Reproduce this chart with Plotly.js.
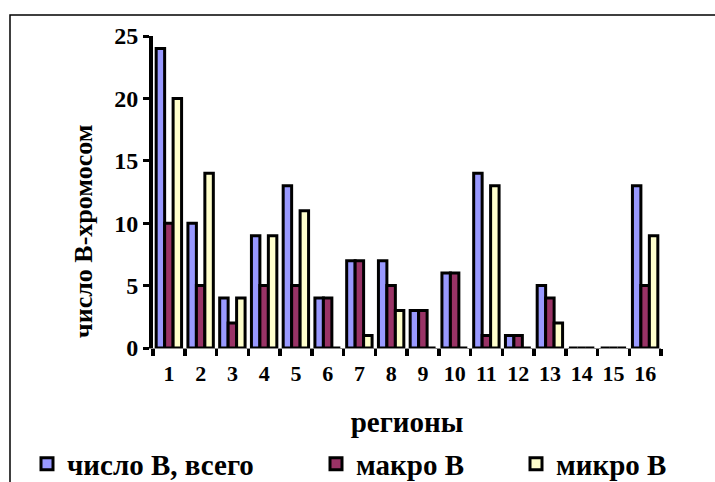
<!DOCTYPE html>
<html><head><meta charset="utf-8">
<script src="https://cdn.plot.ly/plotly-3.0.1.min.js"></script>
<style>html,body{margin:0;padding:0;background:#fff}#c{width:715px;height:482px}</style>
</head><body><div id="c"></div>
<script>
const regions = ['1','2','3','4','5','6','7','8','9','10','11','12','13','14','15','16'];
const totalB = [24,10,4,9,13,4,7,7,3,6,14,1,5,0,0,13];
const macroB = [10,5,2,5,5,4,7,5,3,6,1,1,4,0,0,5];
const microB = [20,14,4,9,11,0,1,3,0,0,13,0,2,0,0,9];
const seriesNames = ['число В, всего','макро В','микро В'];
const colors = ['#9999FF','#993366','#FFFFCC'];
const FONT = 'Liberation Serif, Times New Roman, serif';

const vals = [totalB, macroB, microB];
const legendPos = [27/715, 316/715, 516/715];
const traces = vals.map((v,i)=>({
  type:'bar', x:regions, y:v, name:'<b>'+seriesNames[i]+'</b>',
  marker:{color:colors[i], line:{color:'#000', width:3}},
  legend: i===0?'legend':'legend'+(i+1), showlegend:true
}));
const legendCommon = {orientation:'h', yanchor:'middle', xanchor:'left',
  xref:'container', yref:'container', y:(482-464)/482,
  font:{family:FONT, size:29, color:'#000'}, bgcolor:'rgba(0,0,0,0)', itemwidth:30};
const layout = {
  width:715, height:482, showlegend:true,
  margin:{l:153, r:54, t:36, b:134, autoexpand:false},
  paper_bgcolor:'#fff', plot_bgcolor:'#fff',
  barmode:'group', bargap:0.2, bargroupgap:0,
  font:{family:FONT, color:'#000'},
  xaxis:{type:'category', showline:true, linecolor:'#888', linewidth:1, automargin:false,
    ticks:'outside', tickson:'boundaries', ticklen:7, tickwidth:3.5, tickcolor:'#000', tickangle:0,
    ticklabelstandoff:6,
    tickfont:{family:FONT, size:22, color:'#000', weight:'bold'},
    title:{text:'<b>регионы</b>', font:{family:FONT, size:29, color:'#000'}, standoff:32},
    showgrid:false, zeroline:false, fixedrange:true},
  yaxis:{range:[0,25], dtick:5, showline:true, linecolor:'#000', linewidth:4, automargin:false,
    ticks:'outside', ticklen:6, tickwidth:3, tickcolor:'#000',
    tickfont:{family:FONT, size:24, color:'#000', weight:'bold'},
    showgrid:false, zeroline:false, fixedrange:true},
  legend:Object.assign({x:legendPos[0]}, legendCommon),
  legend2:Object.assign({x:legendPos[1]}, legendCommon),
  legend3:Object.assign({x:legendPos[2]}, legendCommon),
  annotations:[{text:'<b>число В-хромосом</b>', textangle:-90, xref:'paper', yref:'paper',
    x:-0.138, y:0.375, xanchor:'center', yanchor:'middle', showarrow:false,
    font:{family:FONT, size:26, color:'#000'}}],
  shapes:[{type:'rect', xref:'paper', yref:'paper', x0:-0.2815, x1:1.2, y0:-0.5, y1:1.067,
    line:{color:'#000', width:1.5}, fillcolor:'rgba(0,0,0,0)', layer:'below'}]
};
Plotly.newPlot('c', traces, layout, {displayModeBar:false, staticPlot:true});
</script></body></html>
